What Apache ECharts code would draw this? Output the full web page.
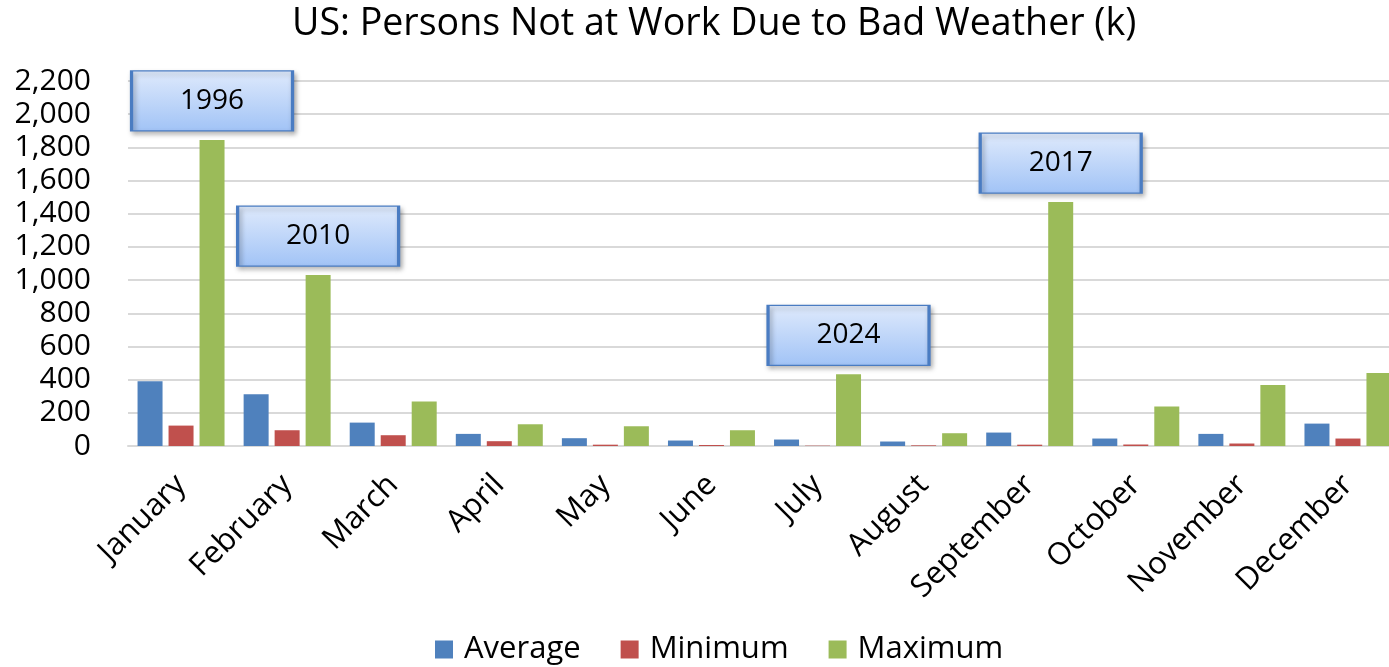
<!DOCTYPE html>
<html>
<head>
<meta charset="utf-8">
<script src="https://cdn.jsdelivr.net/npm/echarts@6/dist/echarts.min.js"></script>
<style>
html, body { margin: 0; padding: 0; background: #fff; }
#chart { width: 1389px; height: 667px; }
</style>
</head>
<body>
<div id="chart"></div>
<script>
const months = ['January', 'February', 'March', 'April', 'May', 'June', 'July', 'August', 'September', 'October', 'November', 'December'];
const average = [390, 312, 141, 73, 47, 33, 39, 27, 81, 45, 73, 135];
const minimum = [123, 95, 65, 29, 8, 6, 2, 4, 8, 9, 15, 45];
const maximum = [1845, 1030, 268, 131, 119, 95, 432, 77, 1470, 238, 368, 440];
// years when the maximum happened
const noteMonths = ['January', 'February', 'July', 'September'];
const noteYears = ['1996', '2010', '2024', '2017'];

const font = 'Open Sans';
const chart = echarts.init(document.getElementById('chart'));

const notes = noteMonths.map((m, i) => ({
  coord: [m, maximum[months.indexOf(m)]],
  value: noteYears[i]
}));

const option = {
  animation: false,
  textStyle: { fontFamily: font },
  title: {
    text: 'US: Persons Not at Work Due to Bad Weather (k)',
    left: 287,
    top: 0,
    textStyle: { fontFamily: font, fontSize: 37.6, fontWeight: 'normal', color: '#000' }
  },
  legend: {
    bottom: -3,
    left: 430,
    itemWidth: 18,
    itemHeight: 18,
    itemGap: 40,
    icon: 'rect',
    textStyle: { fontFamily: font, fontSize: 31, color: '#000', padding: [0, 0, 0, 6] },
    data: ['Average', 'Minimum', 'Maximum']
  },
  grid: { left: 128, right: -12, top: 81, bottom: 221, outerBoundsMode: 'none' },
  xAxis: {
    type: 'category',
    data: months,
    axisTick: { show: false },
    axisLine: { lineStyle: { color: '#d9d9d9', width: 2 } },
    axisLabel: { rotate: 45, interval: 0, margin: 34, fontFamily: font, fontSize: 31, color: '#000' }
  },
  yAxis: {
    type: 'value',
    min: 0,
    max: 2200,
    interval: 200,
    axisLine: { show: false },
    axisTick: { show: false },
    splitLine: { lineStyle: { color: '#d9d9d9', width: 2 } },
    axisLabel: {
      margin: 37,
      fontFamily: font,
      fontSize: 30,
      color: '#000',
      formatter: v => v.toLocaleString('en-US')
    }
  },
  series: [
    {
      name: 'Average', type: 'bar', data: average,
      barGap: '24%', barCategoryGap: '18%',
      itemStyle: { color: '#4f81bd' }
    },
    {
      name: 'Minimum', type: 'bar', data: minimum,
      barGap: '24%', barCategoryGap: '18%',
      itemStyle: { color: '#c0504d' }
    },
    {
      name: 'Maximum', type: 'bar', data: maximum,
      barGap: '24%', barCategoryGap: '18%',
      itemStyle: { color: '#9bbb59' },
      markPoint: {
        symbol: 'rect',
        symbolSize: [161, 60],
        symbolOffset: [0, -39],
        silent: true,
        itemStyle: {
          color: new echarts.graphic.LinearGradient(0, 0, 0, 1, [
            { offset: 0, color: '#dfeafc' },
            { offset: 1, color: '#a1c3f6' }
          ]),
          borderColor: '#4a7cc2',
          borderWidth: 2,
          shadowColor: 'rgba(0,0,0,0.3)',
          shadowBlur: 5,
          shadowOffsetX: 2,
          shadowOffsetY: 3
        },
        label: {
          show: true,
          position: 'inside',
          formatter: '{c}',
          fontFamily: font,
          fontSize: 28,
          color: '#000'
        },
        data: notes
      }
    }
  ]
};

chart.setOption(option);
</script>
</body>
</html>
